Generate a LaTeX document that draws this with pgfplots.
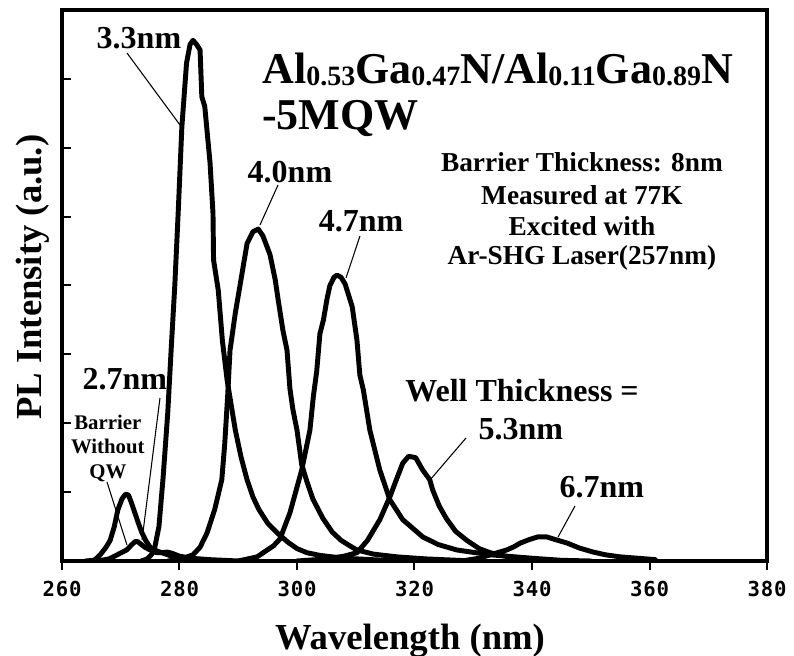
\documentclass[border=0pt]{standalone}
\usepackage{fontspec}
\setmainfont{Liberation Serif}
\newfontfamily\tickfont[LetterSpace=4]{DejaVu Sans Mono}
\usepackage{pgfplots}
\pgfplotsset{compat=1.18}
\newcommand\fs[1]{\fontsize{#1}{#1}\selectfont\bfseries}
\newcommand\sub[1]{\raisebox{-1.5pt}{\fontsize{21}{21}\selectfont\bfseries #1}}
\tikzset{curve/.style={black, mark=none, line width=3.7pt, line join=round, line cap=round}}
\begin{document}
\begin{tikzpicture}
\begin{axis}[
  scale only axis, width=528.75pt, height=413.25pt,
  xmin=260, xmax=380, ymin=0, ymax=8,
  axis line style={line width=2.6pt},
  xtick={260,280,...,380}, xticklabels={260,280,300,320,340,360,380},
  ytick={1,...,7}, yticklabels={},
  xtick pos=bottom, ytick pos=left,
  major tick length=7pt,
  tick style={line width=1.5pt, black},
  xtick style={yshift=-7pt},
  xticklabel style={font=\tickfont\bfseries\fontsize{15.5}{15.5}\selectfont, inner sep=0pt, anchor=north, yshift=-15pt},
  xlabel={Wavelength (nm)},
  ylabel={PL Intensity (a.u.)},
  xlabel style={font=\fs{27.5}, at={(axis description cs:0.4936,-0.1615)}, anchor=base, inner sep=0pt},
  ylabel style={font=\fs{27.5}, at={(axis description cs:-0.0284,0.515)}, anchor=base, inner sep=0pt},
]
% Barrier without QW
\addplot[curve] coordinates {(264.0,0) (265.5,0.01) (266.5,0.09) (267.5,0.2) (268.2,0.3) (268.9,0.5) (269.5,0.74) (270.2,0.9) (270.8,0.97) (271.3,0.96) (271.8,0.85) (272.4,0.7) (273.0,0.55) (273.6,0.41) (274.3,0.29) (275.0,0.2) (276.0,0.15) (277,0.12) (278,0.09) (279,0.06) (280,0.03) (282,0.01) (285,0)};
% 2.7 nm
\addplot[curve] coordinates {(266,0) (268,0.03) (269.4,0.09) (270.3,0.13) (271,0.16) (271.8,0.23) (272.4,0.28) (272.9,0.28) (273.5,0.24) (274.1,0.2) (275,0.16) (276.1,0.12) (277,0.12) (277.9,0.13) (278.8,0.11) (280,0.07) (282,0.04) (285,0.02) (290,0)};
% 3.3 nm
\addplot[curve] coordinates {(273.5,0) (274.5,0.03) (275.3,0.1) (275.8,0.2) (276.5,0.5) (277.2,1.2) (278.0,2.15) (278.6,3.1) (279.2,4.0) (279.8,5.1) (280.4,6.3) (281.2,7.23) (281.8,7.5) (282.3,7.56) (282.9,7.5) (283.5,7.42) (283.8,6.74) (284.3,6.6) (285.2,5.78) (285.7,5.05) (285.8,4.37) (286.6,3.93) (287.3,3.2) (288.1,2.63) (289.5,1.9) (290.5,1.5) (291.5,1.18) (292.5,0.93) (293.5,0.75) (295,0.55) (296.6,0.41) (298.5,0.27) (300,0.18) (301.7,0.12) (304,0.08) (308,0.04) (315,0.01) (325,0)};
% 4.0 nm
\addplot[curve] coordinates {(278,0) (280,0.02) (282.3,0.09) (283.5,0.2) (284.7,0.41) (286,0.75) (287.2,1.18) (287.7,1.7) (288.2,2.4) (288.6,3.06) (289.5,3.6) (290.3,4.0) (291.5,4.61) (292.5,4.78) (293.4,4.82) (294.2,4.72) (295.4,4.45) (296.3,4.08) (296.8,3.79) (297.6,3.35) (298.3,3.06) (298.8,2.5) (299.3,2.2) (300.0,1.9) (300.8,1.4) (301.7,1.15) (302.7,0.9) (304.4,0.62) (306,0.42) (307.5,0.3) (309,0.22) (310.2,0.16) (313,0.1) (317,0.06) (322,0.03) (330,0)};
% 4.7 nm
\addplot[curve] coordinates {(290,0) (293.2,0.06) (296,0.22) (297.1,0.32) (298.8,0.7) (300.8,1.32) (302.2,1.9) (302.8,2.4) (303.35,2.75) (303.9,3.3) (304.5,3.5) (305.1,3.8) (305.6,4.0) (306.3,4.12) (306.8,4.15) (307.5,4.12) (308.2,4.02) (309.4,3.69) (310.2,3.21) (310.7,2.7) (311.3,2.48) (312.4,1.9) (314.1,1.32) (315.8,0.89) (318,0.6) (321.4,0.35) (324,0.24) (327.2,0.16) (332.9,0.09) (340,0.04) (345,0.01) (350,0)};
% 5.3 nm
\addplot[curve] coordinates {(300,0) (305,0.03) (308,0.07) (310.2,0.12) (312,0.3) (314.1,0.6) (315.8,0.93) (317,1.2) (318,1.42) (319,1.52) (320.2,1.5) (321.4,1.32) (322.6,1.18) (323.1,1.03) (324.2,0.8) (325.4,0.62) (327,0.43) (328.9,0.3) (331,0.18) (332.9,0.12) (336,0.06) (340,0.03) (345,0)};
% 6.7 nm
\addplot[curve] coordinates {(328,0) (331,0.04) (332.9,0.09) (334.5,0.13) (335.7,0.16) (337,0.21) (338,0.26) (339.5,0.31) (341,0.35) (342.5,0.35) (344,0.31) (346,0.26) (348,0.19) (350.4,0.13) (352.5,0.09) (355,0.06) (358,0.04) (361,0.02)};

% leader lines
\draw[line width=0.8pt] (axis cs:271.06,7.376) -- (axis cs:280.09,6.330);
\draw[line width=0.8pt] (axis cs:296.77,5.459) -- (axis cs:293.70,4.878);
\draw[line width=0.8pt] (axis cs:310.72,4.719) -- (axis cs:308.34,4.109);
\draw[line width=0.8pt] (axis cs:276.68,2.367) -- (axis cs:273.62,0.305);
\draw[line width=0.8pt] (axis cs:267.66,1.147) -- (axis cs:271.06,0.232);
\draw[line width=0.8pt] (axis cs:328.77,1.786) -- (axis cs:322.64,1.176);
\draw[line width=0.8pt] (axis cs:347.32,0.799) -- (axis cs:344.43,0.348);

% labels
\node[anchor=base, inner sep=0pt, font=\fs{24}] at (axis cs:273.1,7.448) {3.3nm};
\node[anchor=base, inner sep=0pt, font=\fs{24}] at (axis cs:298.8,5.50) {4.0nm};
\node[anchor=base, inner sep=0pt, font=\fs{24}] at (axis cs:310.9,4.777) {4.7nm};
\node[anchor=base, inner sep=0pt, font=\fs{24}] at (axis cs:270.7,2.483) {2.7nm};
\node[anchor=base, inner sep=0pt, font=\fs{24}] at (axis cs:338.3,2.309) {Well Thickness =};
\node[anchor=base, inner sep=0pt, font=\fs{24}] at (axis cs:338.1,1.757) {5.3nm};
\node[anchor=base, inner sep=0pt, font=\fs{24}] at (axis cs:351.9,0.915) {6.7nm};
\node[anchor=base, inner sep=0pt, font=\fs{15.6}] at (axis cs:267.8,1.902) {Barrier};
\node[anchor=base, inner sep=0pt, font=\fs{15.6}] at (axis cs:267.8,1.554) {Without};
\node[anchor=base, inner sep=0pt, font=\fs{15.6}] at (axis cs:267.8,1.205) {QW};
\node[anchor=base west, inner sep=0pt, font=\fs{33}] at (axis cs:294.04,6.94) {Al\sub{0.53}Ga\sub{0.47}N/Al\sub{0.11}Ga\sub{0.89}N};
\node[anchor=base west, inner sep=0pt, font=\fs{33}] at (axis cs:294.04,6.26) {-5MQW};
\node[anchor=base, inner sep=0pt, font=\fs{20.5}] at (axis cs:348.5,5.648) {Barrier Thickness: 8nm};
\node[anchor=base, inner sep=0pt, font=\fs{20.5}] at (axis cs:348.5,5.169) {Measured at 77K};
\node[anchor=base, inner sep=0pt, font=\fs{20.5}] at (axis cs:348.5,4.733) {Excited with};
\node[anchor=base, inner sep=0pt, font=\fs{20.5}] at (axis cs:348.5,4.298) {Ar-SHG Laser(257nm)};
\end{axis}
\pgfresetboundingbox
\path[use as bounding box] ([xshift=-46.5pt,yshift=-71.25pt]current axis.south west) rectangle ([xshift=20.25pt,yshift=7.5pt]current axis.north east);
\end{tikzpicture}
\end{document}
